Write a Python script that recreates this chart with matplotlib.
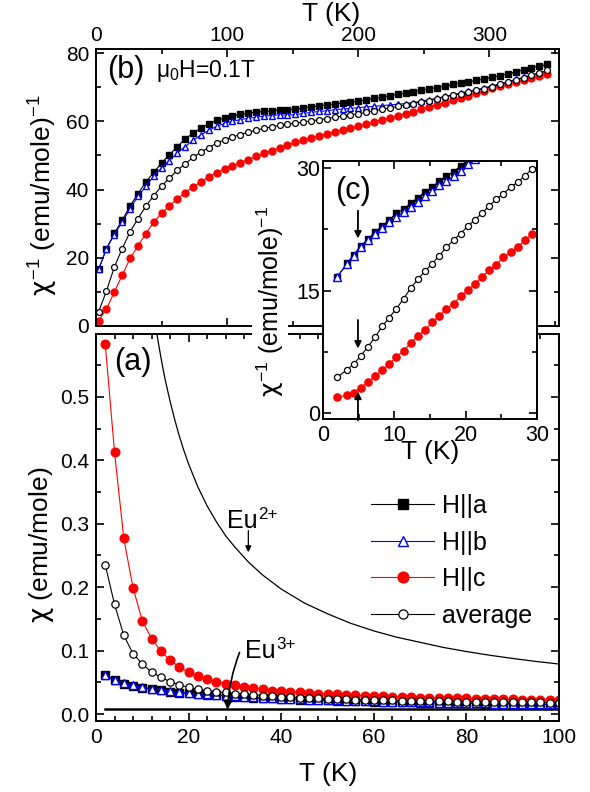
import matplotlib
matplotlib.use("Agg")
import matplotlib.pyplot as plt
from matplotlib.ticker import MultipleLocator, FormatStrFormatter
from matplotlib.transforms import offset_copy

plt.rcParams['font.family'] = ['Liberation Sans', 'DejaVu Sans']
plt.rcParams['mathtext.fontset'] = 'custom'
plt.rcParams['mathtext.rm'] = 'Liberation Sans'
plt.rcParams['mathtext.it'] = 'DejaVu Sans'
plt.rcParams['mathtext.bf'] = 'Liberation Sans'

# ---------------- data: panel (a)  chi vs T -----------------
T_a = [2, 4, 6, 8, 10, 12, 14, 16, 18, 20, 22, 24, 26, 28, 30, 32, 34, 36, 38, 40,
       42, 44, 46, 48, 50, 52, 54, 56, 58, 60, 62, 64, 66, 68, 70, 72, 74, 76, 78, 80,
       82, 84, 86, 88, 90, 92, 94, 96, 98, 100]
chi_c = [0.583, 0.413, 0.277, 0.199, 0.147, 0.119, 0.099, 0.085, 0.074, 0.066,
         0.060, 0.055, 0.051, 0.048, 0.045, 0.043, 0.041, 0.039, 0.037, 0.036,
         0.035, 0.034, 0.033, 0.032, 0.0315, 0.031, 0.030, 0.0295, 0.029, 0.0285,
         0.028, 0.0275, 0.027, 0.0265, 0.026, 0.0257, 0.0254, 0.0251, 0.0248, 0.0245,
         0.0242, 0.0239, 0.0236, 0.0233, 0.023, 0.0228, 0.0226, 0.0224, 0.0222, 0.022]
chi_avg = [0.235, 0.173, 0.124, 0.095, 0.079, 0.066, 0.058, 0.051, 0.046, 0.042,
           0.039, 0.037, 0.035, 0.034, 0.032, 0.031, 0.030, 0.029, 0.028, 0.027,
           0.0263, 0.0257, 0.0251, 0.0245, 0.024, 0.0236, 0.0232, 0.0228, 0.0224, 0.022,
           0.0217, 0.0214, 0.0211, 0.0208, 0.0205, 0.0203, 0.0201, 0.0199, 0.0197, 0.0195,
           0.0193, 0.0191, 0.0189, 0.0188, 0.0187, 0.0185, 0.0184, 0.0182, 0.0181, 0.018]
chi_b = [0.062, 0.054, 0.049, 0.0455, 0.042, 0.040, 0.038, 0.036, 0.034, 0.033,
         0.032, 0.031, 0.030, 0.029, 0.028, 0.027, 0.0263, 0.0256, 0.025, 0.0244,
         0.0238, 0.0233, 0.0228, 0.0223, 0.0219, 0.0215, 0.0211, 0.0207, 0.0203, 0.020,
         0.0197, 0.0194, 0.0191, 0.0188, 0.0185, 0.0182, 0.018, 0.0177, 0.0175, 0.0172,
         0.017, 0.0168, 0.0165, 0.0163, 0.0161, 0.0159, 0.0157, 0.0155, 0.0153, 0.0151]
chi_a = [0.061, 0.053, 0.048, 0.0447, 0.0413, 0.0393, 0.0373, 0.0353, 0.0334, 0.0324,
         0.0314, 0.0304, 0.0295, 0.0285, 0.0275, 0.0265, 0.0258, 0.0251, 0.0245, 0.0239,
         0.0233, 0.0228, 0.0223, 0.0219, 0.0215, 0.0211, 0.0207, 0.0203, 0.0199, 0.0196,
         0.0193, 0.019, 0.0187, 0.0184, 0.0181, 0.0178, 0.0176, 0.0173, 0.0171, 0.0169,
         0.0167, 0.0165, 0.0162, 0.016, 0.0158, 0.0156, 0.0154, 0.0152, 0.015, 0.0148]

# free-ion curves
T_eu2 = [13.2, 13.5, 14, 14.5, 15, 16, 17, 18, 19, 20, 22, 24, 26, 28, 30, 33, 36, 40,
         45, 50, 55, 60, 65, 70, 75, 80, 85, 90, 95, 100]
chi_eu2 = [0.597, 0.584, 0.563, 0.543, 0.525, 0.493, 0.464, 0.438, 0.415, 0.394,
           0.358, 0.328, 0.303, 0.281, 0.263, 0.239, 0.219, 0.197, 0.175, 0.158,
           0.143, 0.131, 0.121, 0.113, 0.105, 0.0985, 0.0927, 0.0876, 0.0829, 0.0788]
T_eu3 = [2, 100]
chi_eu3 = [0.008, 0.008]

# ---------------- data: panel (b)  1/chi vs T -----------------
T_b = [2, 8, 14, 20, 26, 32, 38, 44, 50, 56, 62, 68, 74, 80, 86, 92, 98, 104, 110, 116,
       122, 128, 134, 140, 146, 152, 158, 164, 170, 176, 182, 188, 194, 200, 206, 212,
       218, 224, 230, 236, 242, 248, 254, 260, 266, 272, 278, 284, 290, 296, 302, 308,
       314, 320, 326, 332, 338, 344]
inv_a = [16.6, 22.7, 27.2, 31.0, 35.2, 38.8, 42.2, 45.0, 47.8, 50.2, 52.6, 54.8, 56.6,
         58.0, 59.3, 60.3, 61.0, 61.6, 62.0, 62.4, 62.7, 62.9, 63.1, 63.3, 63.4, 63.6,
         63.9, 64.2, 64.5, 64.8, 65.1, 65.4, 65.6, 65.9, 66.3, 66.7, 67.1, 67.5, 67.9,
         68.3, 68.7, 69.1, 69.5, 69.9, 70.3, 70.8, 71.2, 71.6, 72.0, 72.4, 72.9, 73.4,
         73.9, 74.5, 75.1, 75.7, 76.2, 76.7]
inv_b = [16.6, 22.7, 26.8, 30.5, 34.4, 38.0, 41.0, 43.9, 46.4, 48.5, 50.7, 52.6, 54.4,
         56.0, 57.4, 58.5, 59.4, 60.0, 60.5, 60.9, 61.2, 61.5, 61.7, 61.9, 61.8, 62.0,
         62.3, 62.6, 62.9, 63.1, 63.4, 63.6, 63.8, 64.0, 64.2, 64.4, 64.6, 64.8, 65.0,
         65.2, 65.5, 65.9, 66.3, 66.8, 67.3, 67.8, 68.3, 68.8, 69.3, 69.8, 70.4, 71.0,
         71.6, 72.3, 72.9, 73.6, 74.0, 74.4]
inv_c = [1.6, 5.0, 10.0, 14.9, 19.8, 23.5, 27.1, 30.4, 33.1, 35.2, 37.3, 39.1, 40.8,
         42.3, 43.7, 44.9, 46.0, 47.0, 47.9, 48.8, 49.7, 50.6, 51.4, 52.2, 53.0, 53.8,
         54.5, 55.1, 55.7, 56.3, 56.9, 57.5, 58.0, 58.6, 59.2, 59.8, 60.4, 61.0, 61.6,
         62.2, 62.8, 63.5, 64.3, 64.9, 65.5, 66.2, 66.8, 67.5, 68.2, 68.9, 69.7, 70.3,
         70.9, 71.5, 72.1, 72.7, 73.3, 73.9]
inv_avg = [4.2, 10.3, 17.3, 22.7, 27.6, 31.5, 35.1, 38.2, 41.0, 43.4, 45.6, 47.6, 49.4,
           51.0, 52.3, 53.6, 54.6, 55.4, 56.1, 56.8, 57.4, 57.9, 58.4, 58.8, 59.2, 59.4,
           59.8, 60.1, 60.5, 60.8, 61.2, 61.5, 61.9, 62.2, 62.6, 63.0, 63.5, 63.9, 64.4,
           64.8, 65.2, 65.7, 66.1, 66.6, 67.1, 67.6, 68.1, 68.6, 69.1, 69.6, 70.2, 70.8,
           71.4, 72.1, 72.8, 73.5, 74.2, 74.9]

# ---------------- data: inset (c)  1/chi vs T, low T -----------------
T_c = [2.0, 3.4, 4.3, 5.3, 6.3, 7.3, 8.3, 9.3, 10.3, 11.3, 12.3, 13.3, 14.3, 15.3,
       16.3, 17.3, 18.3, 19.3, 20.3, 21.3, 22.3, 23.3, 24.3, 25.3, 26.3, 27.3, 28.3, 29.3]
invc_a = [16.7, 18.4, 19.4, 20.5, 21.3, 22.2, 22.9, 23.7, 24.5, 25.0, 25.7, 26.4, 27.1,
          27.7, 28.4, 29.0, 29.6, 30.3, 31.0, 31.7, 32.4, 33.0, 33.7, 34.3, 35.0, 35.6,
          36.3, 36.9]
invc_b = [16.7, 18.3, 19.3, 20.3, 21.2, 21.9, 22.7, 23.4, 24.0, 24.7, 25.3, 25.9, 26.6,
          27.2, 27.9, 28.4, 29.1, 29.7, 30.5, 31.2, 31.9, 32.5, 33.2, 33.8, 34.5, 35.1,
          35.8, 36.4]
invc_c = [1.9, 2.2, 2.5, 3.1, 3.8, 4.5, 5.3, 6.0, 6.9, 7.6, 8.6, 9.4, 10.2, 11.1, 11.9,
          12.8, 13.4, 14.3, 15.1, 15.8, 16.7, 17.5, 18.2, 19.1, 19.7, 20.4, 21.2, 21.9]
invc_avg = [4.4, 5.3, 6.0, 7.0, 8.1, 9.3, 10.6, 11.7, 12.8, 14.0, 15.3, 16.4, 17.4, 18.3,
            19.3, 20.3, 21.2, 22.0, 22.9, 23.7, 24.5, 25.4, 26.2, 26.9, 27.7, 28.3, 29.1,
            29.9]

labels = ['H||a', 'H||b', 'H||c', 'average']
RED = '#ff0000'
BLUE = '#0000ff'

W, H = 590, 792
fig = plt.figure(figsize=(W / 100, H / 100), dpi=100)


def px(l, t, r, b):
    return [l / W, 1 - b / H, (r - l) / W, (b - t) / H]


ax_b = fig.add_axes(px(96, 49, 559, 326))
ax_a = fig.add_axes(px(96, 334, 559, 721))
ax_in = fig.add_axes(px(323, 161, 537, 419), zorder=5)

TICK = 15
for ax in (ax_a, ax_b, ax_in):
    for s in ax.spines.values():
        s.set_linewidth(1.4)
    ax.tick_params(which='both', direction='in', top=True, right=True, width=1.2)
    ax.tick_params(which='major', length=6, labelsize=TICK)
    ax.tick_params(which='minor', length=3.5)


def series(ax, T, ya, yb, yc, yavg, ms):
    ax.plot(T, ya, '-s', color='black', lw=0.8, ms=ms * 0.85, mfc='black', mec='black',
            label=labels[0])
    ax.plot(T, yb, '-^', color=BLUE, lw=0.8, ms=ms, mfc='white', mec=BLUE, mew=1.0,
            label=labels[1])
    ax.plot(T, yc, '-o', color=RED, lw=0.8, ms=ms, mfc=RED, mec=RED, label=labels[2])
    ax.plot(T, yavg, '-o', color='black', lw=0.8, ms=ms * 0.85, mfc='white', mec='black',
            mew=0.9, label=labels[3])


def ion_label(ax, x, y, base, sup, size=18):
    ax.text(x, y, base, fontsize=size, ha='left', va='baseline')
    tr = offset_copy(ax.transData, fig=fig, x=31, y=9, units='dots')
    ax.text(x, y, sup, fontsize=size * 0.68, ha='left', va='baseline', transform=tr)


# ---- panel (b)
series(ax_b, T_b, inv_a, inv_b, inv_c, inv_avg, 5)
ax_b.set_xlim(0, 353)
ax_b.set_ylim(0, 81.2)
ax_b.xaxis.set_major_locator(MultipleLocator(100))
ax_b.xaxis.set_minor_locator(MultipleLocator(50))
ax_b.yaxis.set_major_locator(MultipleLocator(20))
ax_b.yaxis.set_minor_locator(MultipleLocator(10))
ax_b.tick_params(axis='x', labeltop=True, labelbottom=False, pad=3)
ax_b.tick_params(axis='y', pad=5)
ax_b.text(0.025, 0.925, '(b)', transform=ax_b.transAxes, fontsize=22, va='center', ha='left')
ax_b.text(0.13, 0.92, r'$\mathregular{\mu_0}$H=0.1T', transform=ax_b.transAxes,
          fontsize=16.5, va='center', ha='left')

# ---- panel (a)
ax_a.plot(T_eu2, chi_eu2, color='black', lw=0.9)
ax_a.plot(T_eu3, chi_eu3, color='black', lw=1.8)
series(ax_a, T_a, chi_a, chi_b, chi_c, chi_avg, 6.2)
ax_a.set_xlim(0, 100)
ax_a.set_ylim(-0.011, 0.599)
ax_a.xaxis.set_major_locator(MultipleLocator(20))
ax_a.xaxis.set_minor_locator(MultipleLocator(4))
ax_a.yaxis.set_major_locator(MultipleLocator(0.1))
ax_a.yaxis.set_minor_locator(MultipleLocator(0.05))
ax_a.yaxis.set_major_formatter(FormatStrFormatter('%.1f'))
ax_a.tick_params(axis='x', pad=5)
ax_a.tick_params(axis='y', pad=5)
ax_a.text(8.0, 0.555, '(a)', fontsize=22, ha='center', va='center')
ion_label(ax_a, 28.4, 0.293, 'Eu', '2+')
ax_a.annotate('', xy=(32.9, 0.255), xytext=(32.9, 0.289),
              arrowprops=dict(arrowstyle='-|>', color='black', lw=0.9,
                              mutation_scale=9, shrinkA=0, shrinkB=0))
ion_label(ax_a, 32.2, 0.088, 'Eu', '3+')
ax_a.annotate('', xy=(28.4, 0.007), xytext=(31.0, 0.097),
              arrowprops=dict(arrowstyle='-|>', color='black', lw=1.2,
                              mutation_scale=13, shrinkA=0, shrinkB=0,
                              connectionstyle='arc3,rad=0.08'))
leg = ax_a.legend(loc='upper left', bbox_to_anchor=(0.595, 0.586), frameon=False,
                  fontsize=18, handlelength=2.5, handletextpad=0.32, labelspacing=0.5,
                  borderpad=0, borderaxespad=0, markerscale=1.25)

# ---- inset (c)
series(ax_in, T_c, invc_a, invc_b, invc_c, invc_avg, 5.2)
ax_in.set_facecolor('white')
ax_in.set_xlim(0, 30)
ax_in.set_ylim(-0.75, 30.9)
ax_in.xaxis.set_major_locator(MultipleLocator(10))
ax_in.xaxis.set_minor_locator(MultipleLocator(5))
ax_in.yaxis.set_major_locator(MultipleLocator(15))
ax_in.yaxis.set_minor_locator(MultipleLocator(7.5))
ax_in.tick_params(axis='both', labelsize=15.5)
ax_in.tick_params(axis='x', pad=4)
ax_in.tick_params(axis='y', pad=2)
ax_in.text(4.2, 27.2, '(c)', fontsize=22, ha='center', va='center')
for y0, y1 in [(24.8, 21.4), (11.4, 7.9), (-0.9, 2.6)]:
    ax_in.annotate('', xy=(4.9, y1), xytext=(4.9, y0),
                   arrowprops=dict(arrowstyle='-|>', color='black', lw=1.3,
                                   mutation_scale=10, shrinkA=0, shrinkB=0))

# ---- axis labels
LAB = 19
fig.text(42 / W, 1 - 195 / H, r'$\chi^{-1}$ (emu/mole)$^{-1}$', rotation=90, fontsize=LAB,
         ha='center', va='center')
fig.text(42 / W, 1 - 545 / H, r'$\chi$ (emu/mole)', rotation=90, fontsize=LAB,
         ha='center', va='center')
fig.text(328 / W, 1 - 774 / H, 'T (K)', fontsize=LAB, ha='center', va='center')
fig.text(331 / W, 1 - 14 / H, 'T (K)', fontsize=LAB, ha='center', va='center')
fig.text(270 / W, 1 - 302 / H, r'$\chi^{-1}$ (emu/mole)$^{-1}$', rotation=90, fontsize=18,
         ha='center', va='center',
         bbox=dict(facecolor='white', edgecolor='none', pad=2))
fig.text(430 / W, 1 - 452 / H, 'T (K)', fontsize=LAB, ha='center', va='center')

fig.savefig('out.png', dpi=100)
